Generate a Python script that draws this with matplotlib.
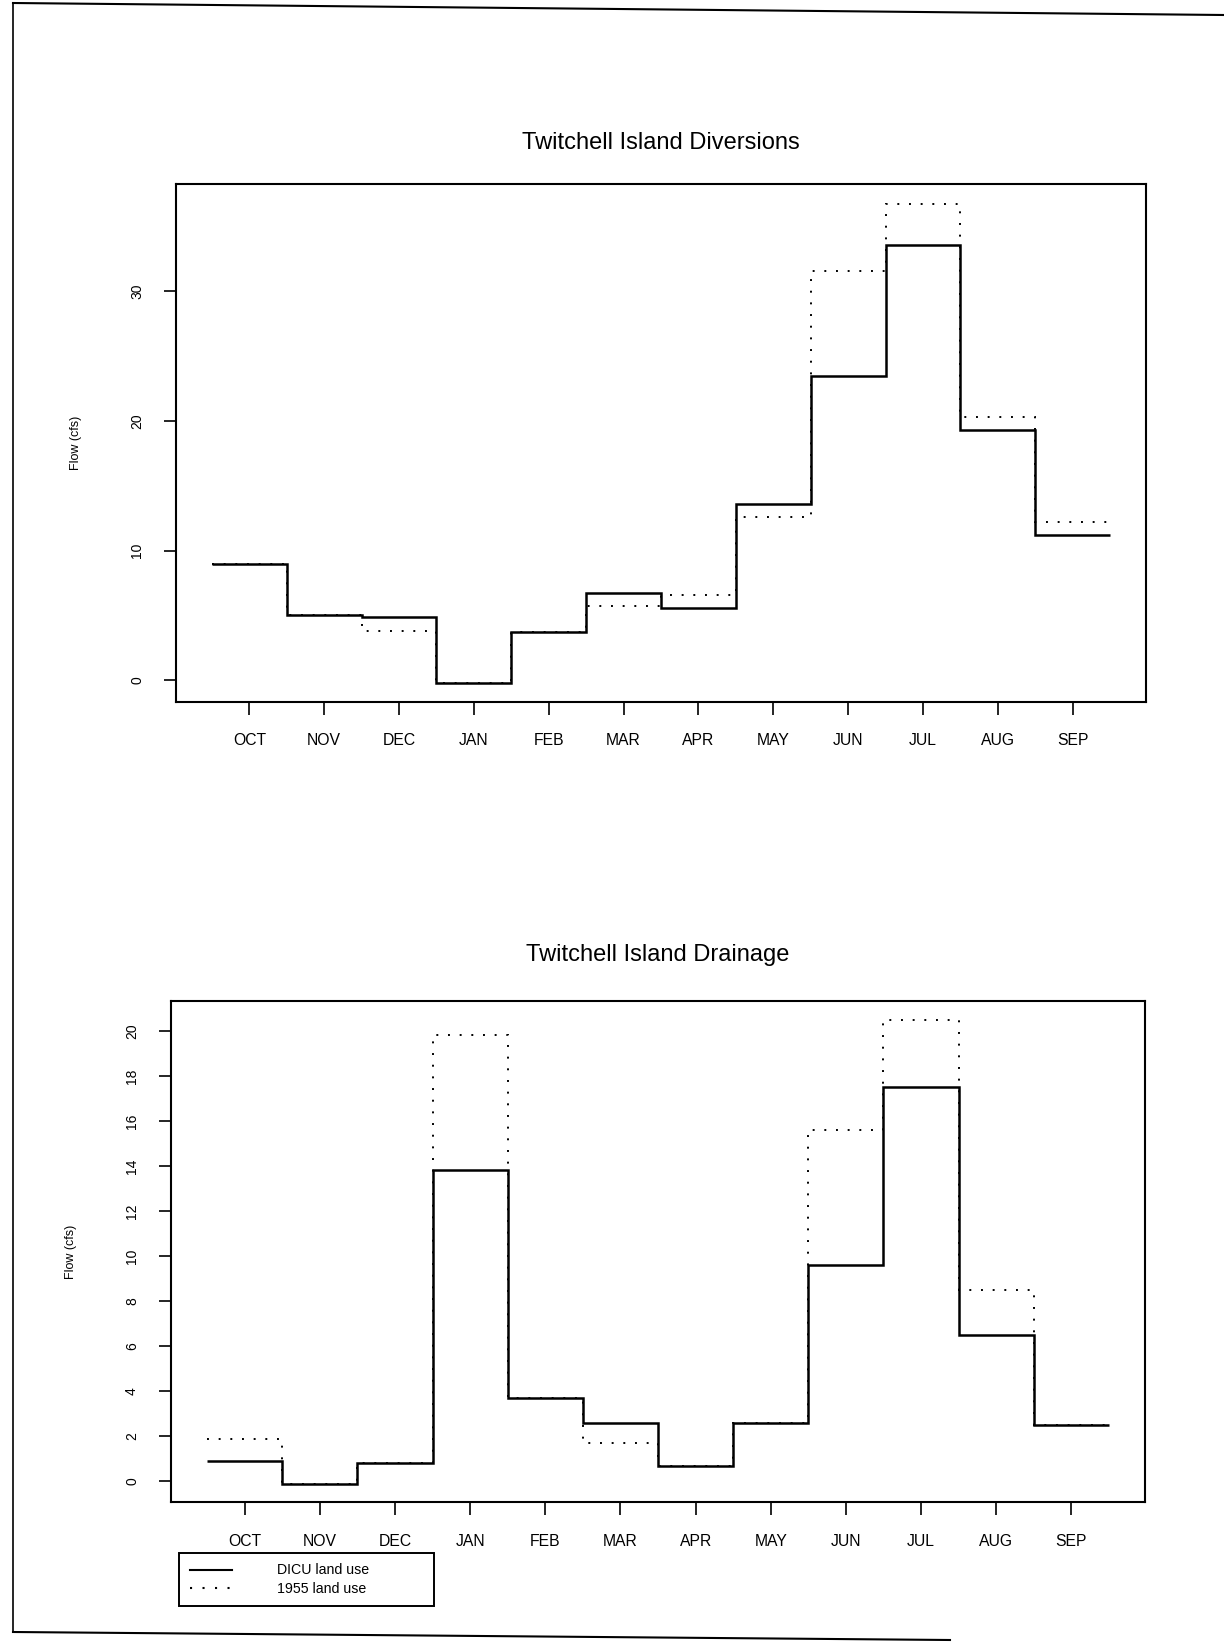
import numpy as np
import matplotlib.pyplot as plt
from matplotlib.lines import Line2D

plt.rcParams['font.family'] = ['Liberation Sans', 'DejaVu Sans']

### monthly values (cfs)
months = ['OCT', 'NOV', 'DEC', 'JAN', 'FEB', 'MAR', 'APR', 'MAY', 'JUN', 'JUL', 'AUG', 'SEP']
div_dicu = [9.0, 5.0, 4.9, -0.2, 3.7, 6.7, 5.6, 13.6, 23.5, 33.6, 19.3, 11.2]
div_1955 = [9.0, 5.0, 3.8, -0.2, 3.7, 5.7, 6.6, 12.6, 31.6, 36.7, 20.3, 12.2]
drn_dicu = [0.9, -0.1, 0.8, 13.8, 3.7, 2.6, 0.7, 2.6, 9.6, 17.5, 6.5, 2.5]
drn_1955 = [1.9, -0.1, 0.8, 19.8, 3.7, 1.7, 0.7, 2.6, 15.6, 20.5, 8.5, 2.5]
div_yticks = [0, 10, 20, 30]
drn_yticks = [0, 2, 4, 6, 8, 10, 12, 14, 16, 18, 20]
legend_labels = ['DICU land use', '1955 land use']

fig = plt.figure(figsize=(12.24, 16.47), dpi=100)
ax1 = fig.add_axes([0.1438, 0.5738, 0.7925, 0.3145])
ax2 = fig.add_axes([0.1397, 0.0880, 0.7958, 0.3042])

edges = np.arange(len(months) + 1) - 0.5
dot = (0, (1.0, 5.0))


def panel(ax, title, dicu, old, yticks, ylim, tpad, xpad):
    # dotted first so the solid line covers it where they coincide
    ax.stairs(old, edges, baseline=None, color='black', lw=1.4, linestyle=dot)
    ax.stairs(dicu, edges, baseline=None, color='black', lw=1.8)
    ax.set_xlim(-0.98, 11.98)
    ax.set_ylim(*ylim)
    ax.set_xticks(range(len(months)))
    ax.set_xticklabels(months, fontsize=11.3)
    ax.set_yticks(yticks)
    ax.set_yticklabels([str(t) for t in yticks], fontsize=10, rotation=90, va='center')
    ax.tick_params(axis='x', length=9, width=1.2, pad=xpad)
    ax.tick_params(axis='y', length=9, width=1.2, pad=14)
    for s in ax.spines.values():
        s.set_linewidth(1.5)
    ax.set_title(title, fontsize=17, pad=tpad)
    ax.set_ylabel('Flow (cfs)', fontsize=9)
    ax.yaxis.set_label_coords(-0.097, 0.5)


panel(ax1, 'Twitchell Island Diversions', div_dicu, div_1955, div_yticks, (-1.68, 38.28), 25, 13)
panel(ax2, 'Twitchell Island Drainage', drn_dicu, drn_1955, drn_yticks, (-0.92, 21.32), 29, 14)

handles = [Line2D([], [], color='black', lw=1.5),
           Line2D([], [], color='black', lw=1.5, linestyle=dot)]
leg = fig.legend(handles, legend_labels, loc='upper left',
                 bbox_to_anchor=(179 / 1224, 1 - 1553 / 1647, 255 / 1224, 0.0001),
                 mode='expand', borderaxespad=0, fontsize=10.2, fancybox=False,
                 edgecolor='black', framealpha=1, handlelength=3.0, handletextpad=3.2,
                 labelspacing=0.3, borderpad=0.75)
leg.get_frame().set_linewidth(1.4)

### page border from the scan
fig.add_artist(Line2D([13 / 1224, 1.0], [1 - 3 / 1647, 1 - 15 / 1647], color='black', lw=1.5, transform=fig.transFigure))
fig.add_artist(Line2D([13 / 1224, 13 / 1224], [1 - 3 / 1647, 1 - 1632 / 1647], color='black', lw=1.2, transform=fig.transFigure))
fig.add_artist(Line2D([13 / 1224, 950 / 1224], [1 - 1632 / 1647, 1 - 1640 / 1647], color='black', lw=1.5, transform=fig.transFigure))

fig.savefig('out.png', dpi=100)
